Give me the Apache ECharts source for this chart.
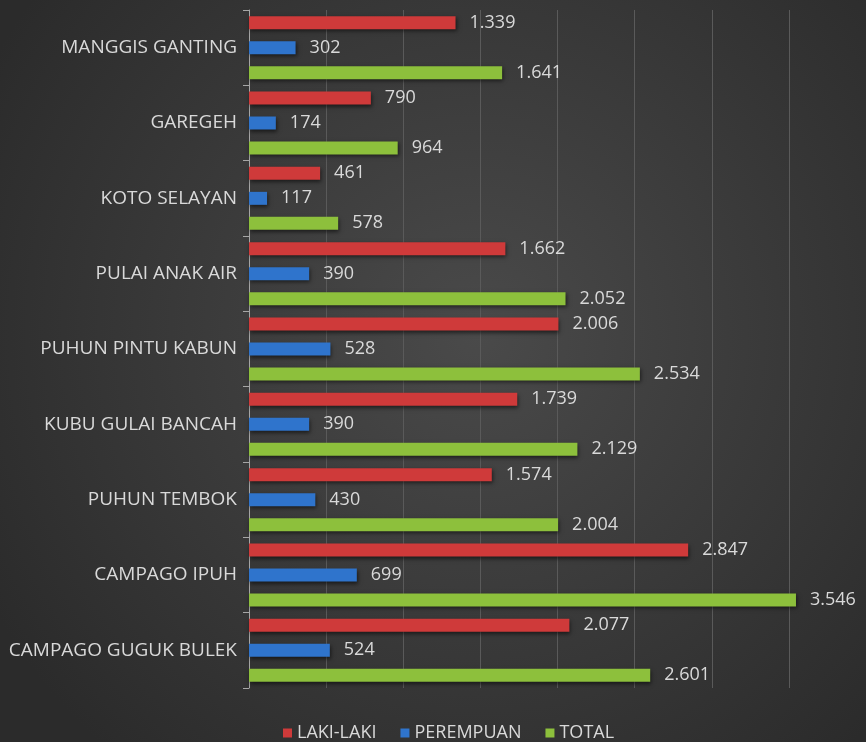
<!DOCTYPE html>
<html>
<head>
<meta charset="utf-8">
<script src="https://cdn.jsdelivr.net/npm/echarts@6/dist/echarts.min.js"></script>
<style>
  html, body { margin: 0; padding: 0; background: #3a3a3a; }
  #chart { width: 866px; height: 742px; }
</style>
</head>
<body>
<div id="chart"></div>
<script>
// Population per kelurahan, listed top to bottom
const categories = [
  'MANGGIS GANTING', 'GAREGEH', 'KOTO SELAYAN', 'PULAI ANAK AIR',
  'PUHUN PINTU KABUN', 'KUBU GULAI BANCAH', 'PUHUN TEMBOK',
  'CAMPAGO IPUH', 'CAMPAGO GUGUK BULEK'
];
const lakiLaki   = [1339, 790, 461, 1662, 2006, 1739, 1574, 2847, 2077];
const perempuan  = [302, 174, 117, 390, 528, 390, 430, 699, 524];
const total      = [1641, 964, 578, 2052, 2534, 2129, 2004, 3546, 2601];
const seriesNames = ['LAKI-LAKI', 'PEREMPUAN', 'TOTAL'];

const FONT = '"Open Sans", "Noto Sans", sans-serif';
const TEXT = '#d9d9d9';

// thousands separator in Indonesian style: 1.339
const fmt = v => String(v).replace(/\B(?=(\d{3})+(?!\d))/g, '.');

function barSeries(name, data, color) {
  return {
    name: name,
    type: 'bar',
    data: data,
    barWidth: 13,
    barGap: '92%',
    itemStyle: {
      color: color,
      shadowColor: 'rgba(0,0,0,0.55)',
      shadowBlur: 4,
      shadowOffsetX: 1,
      shadowOffsetY: 2
    },
    label: {
      show: true,
      position: 'right',
      distance: 14,
      color: TEXT,
      fontFamily: FONT,
      fontSize: 18,
      formatter: p => fmt(p.value)
    }
  };
}

const chart = echarts.init(document.getElementById('chart'));
chart.setOption({
  backgroundColor: {
    type: 'radial', x: 0.55, y: 0.45, r: 0.75,
    colorStops: [
      { offset: 0, color: '#4a4a4a' },
      { offset: 1, color: '#2b2b2b' }
    ]
  },
  animation: false,
  grid: { left: 249, right: -2, top: 10, bottom: 54, containLabel: false },
  legend: {
    bottom: 0,
    left: 278,
    padding: [5, 5, 0, 5],
    itemWidth: 9,
    itemHeight: 9,
    itemGap: 24,
    icon: 'rect',
    textStyle: { color: TEXT, fontFamily: FONT, fontSize: 18 },
    data: seriesNames
  },
  xAxis: {
    type: 'value',
    min: 0,
    max: 4000,
    interval: 500,
    axisLabel: { show: false },
    axisLine: { show: false },
    axisTick: { show: false },
    splitLine: { lineStyle: { color: '#5a5a5a', width: 1 } }
  },
  yAxis: {
    type: 'category',
    inverse: true,
    data: categories,
    axisLine: { lineStyle: { color: '#a6a6a6', width: 1 } },
    axisTick: { show: true, length: 6, lineStyle: { color: '#a6a6a6' } },
    axisLabel: {
      color: TEXT, fontFamily: FONT, fontSize: 19, margin: 12
    }
  },
  series: [
    barSeries(seriesNames[0], lakiLaki, '#cf3a3a'),
    barSeries(seriesNames[1], perempuan, '#2f74cc'),
    barSeries(seriesNames[2], total, '#8dc03c')
  ]
});
</script>
</body>
</html>
